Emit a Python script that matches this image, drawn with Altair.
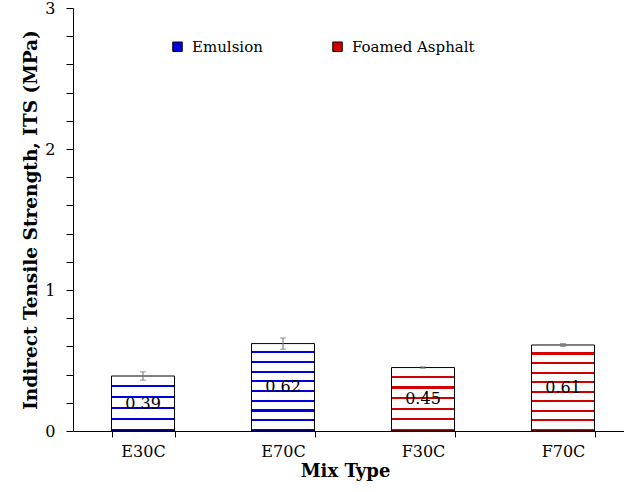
import altair as alt
import pandas as pd

# Indirect tensile strength per mix type
mix_types = ["E30C", "E70C", "F30C", "F70C"]
its_mean = [0.39, 0.62, 0.45, 0.61]
its_err = [0.03, 0.04, 0.005, 0.01]
binder = ["Emulsion", "Emulsion", "Foamed Asphalt", "Foamed Asphalt"]

series_names = ["Emulsion", "Foamed Asphalt"]
series_colors = ["#0000e0", "#d40000"]
y_tick_values = [0, 0.2, 0.4, 0.6, 0.8, 1, 1.2, 1.4, 1.6, 1.8, 2,
                 2.2, 2.4, 2.6, 2.8, 3]
y_label_values = [0, 1, 2, 3]

FONT = "DejaVu Serif"
Y_TITLE = "Indirect Tensile Strength, ITS (MPa)"
PLOT_W, PLOT_H = 551, 423
Y_MAX = 3
PX_PER_UNIT = PLOT_H / Y_MAX
ERR_GREY = "#808080"

df = pd.DataFrame({
    "mix": mix_types,
    "its": its_mean,
    "err": its_err,
    "binder": binder,
})

x_enc = alt.X(
    "mix:N",
    sort=mix_types,
    scale=alt.Scale(range=[0, 560], paddingInner=0.55, paddingOuter=0.275),
    axis=alt.Axis(title="Mix Type", labelAngle=0, tickBand="extent",
                  titleX=272),
)
y_scale = alt.Scale(domain=[0, Y_MAX], nice=False)
label_test = " || ".join(f"abs(datum.value - {v}) < 0.001" for v in y_label_values)
y_axis = alt.Axis(
    title=Y_TITLE,
    values=y_tick_values,
    labelExpr=f"({label_test}) ? format(datum.value, 'd') : ''",
    labelOverlap=False,
    tickSize=7, labelPadding=11, ticks=True,
)


def y_of(field):
    return alt.Y(field, scale=y_scale, axis=y_axis)


def stripe_fill(color, height_px, period=10.0, line_frac=0.22):
    """Horizontal hatching drawn as a hard-stop linear gradient."""
    n = max(1, round(height_px / period))
    stops = []
    for k in range(n):
        a = k / n
        b = (k + 1 - line_frac) / n
        c = (k + 1) / n
        stops += [
            {"offset": a, "color": "white"},
            {"offset": b, "color": "white"},
            {"offset": b, "color": color},
            {"offset": c, "color": color},
        ]
    return {"gradient": "linear", "x1": 0, "y1": 0, "x2": 0, "y2": 1,
            "stops": stops}


base = alt.Chart(df)

bar_layers = []
for m, v, b in zip(mix_types, its_mean, binder):
    col = series_colors[series_names.index(b)]
    bar_layers.append(
        base.transform_filter(alt.datum.mix == m)
        .mark_bar(fill=stripe_fill(col, v * PX_PER_UNIT), stroke="black",
                  strokeWidth=1)
        .encode(x=x_enc, y=y_of("its:Q"))
    )

err_base = base.transform_calculate(
    lo="datum.its - datum.err", hi="datum.its + datum.err"
)
err_stem = err_base.mark_rule(color=ERR_GREY, strokeWidth=1.2).encode(
    x=x_enc, y=y_of("lo:Q"), y2="hi:Q"
)
err_cap_hi = err_base.mark_tick(color=ERR_GREY, size=6, thickness=1.2,
                                orient="horizontal").encode(
    x=x_enc, y=y_of("hi:Q")
)
err_cap_lo = err_base.mark_tick(color=ERR_GREY, size=6, thickness=1.2,
                                orient="horizontal").encode(
    x=x_enc, y=y_of("lo:Q")
)

labels = (
    base.transform_calculate(mid="datum.its / 2")
    .mark_text(font=FONT, fontSize=16, color="black")
    .encode(x=x_enc, y=y_of("mid:Q"),
            text=alt.Text("its:Q", format=".2f"))
)

legend_layer = (
    base.mark_point(shape="square", filled=True, opacity=0)
    .encode(
        x=x_enc,
        y=y_of("its:Q"),
        color=alt.Color(
            "binder:N",
            scale=alt.Scale(domain=series_names, range=series_colors),
            legend=alt.Legend(
                title=None, orient="none", direction="horizontal",
                legendX=97, legendY=31, symbolType="square", symbolSize=90,
                symbolOpacity=1, symbolStrokeColor="black",
                symbolStrokeWidth=1, labelFont=FONT, labelFontSize=15,
                labelColor="black", columnPadding=67, labelOffset=7,
            ),
        ),
    )
)

chart = (
    alt.layer(*bar_layers, err_stem, err_cap_hi, err_cap_lo, labels,
              legend_layer)
    .properties(
        width=PLOT_W, height=PLOT_H,
        background="white",
        autosize=alt.AutoSizeParams(type="none"),
        padding={"left": 73, "top": 8, "right": 0, "bottom": 61},
    )
    .configure_view(stroke=None)
    .configure_axis(
        labelFont=FONT, labelColor="black", titleFont=FONT,
        titleFontWeight="bold", titleColor="black", domainColor="black",
        tickColor="black", grid=False,
    )
    .configure_axisX(labelFontSize=16, tickSize=6, labelPadding=6,
                     titleFontSize=18, titlePadding=3)
    .configure_axisY(labelFontSize=16, tickSize=7, labelPadding=11,
                     titleFontSize=18.5, titlePadding=4, labelOverlap=False)
)

chart.save("out.html", embed_options={"renderer": "svg", "actions": False})
